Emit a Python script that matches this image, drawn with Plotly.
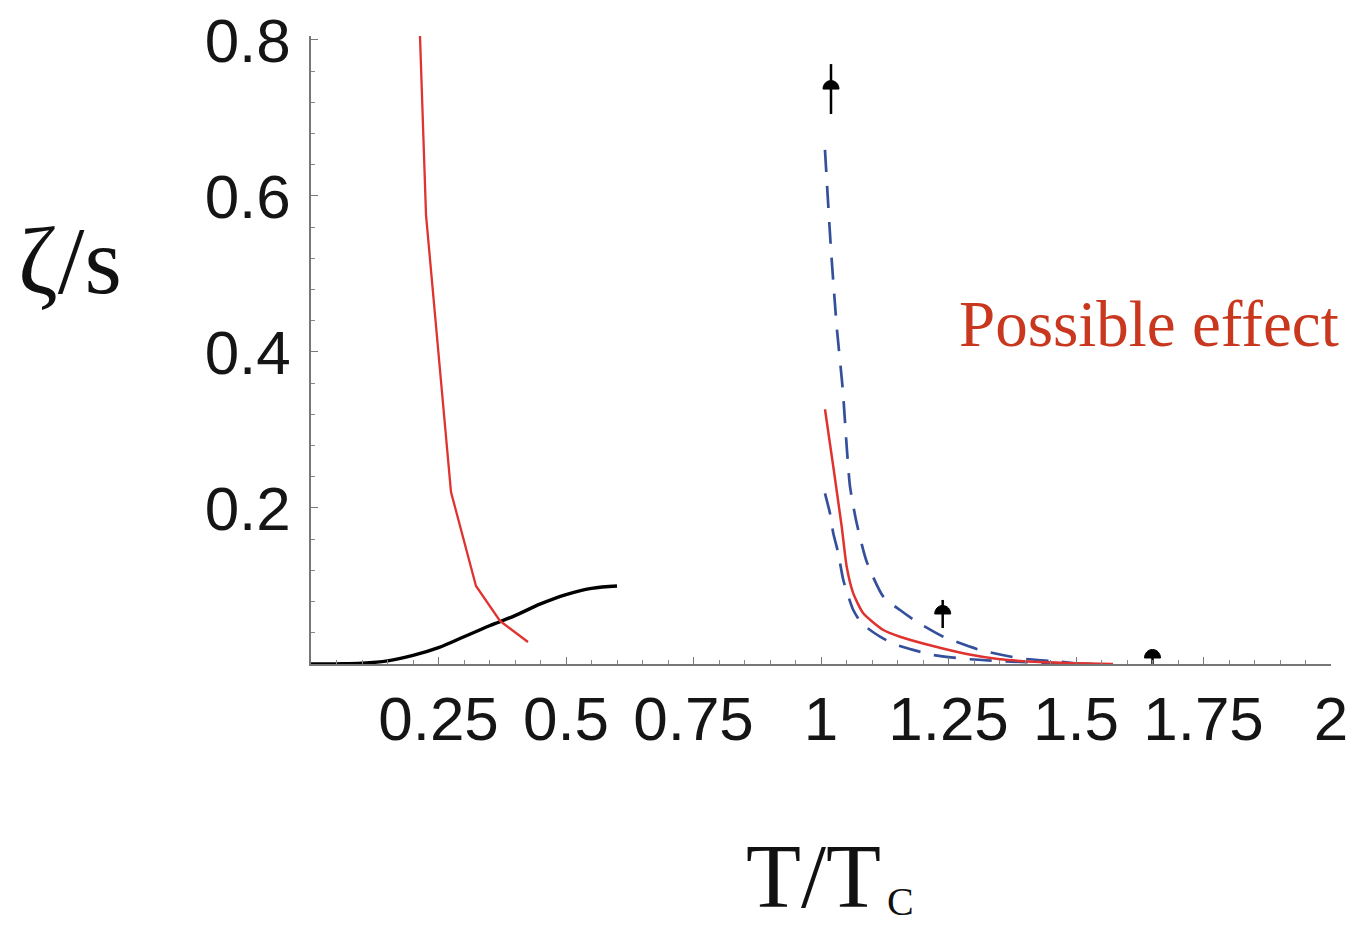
import plotly.graph_objects as go

# ---------------- data ----------------
# black curve (low temperature)
black_x = [0.0, 0.05, 0.10, 0.15, 0.20, 0.25, 0.30, 0.35, 0.40, 0.45, 0.50, 0.55, 0.60]
black_y = [0.0, 0.0002, 0.001, 0.004, 0.011, 0.021, 0.035, 0.049, 0.062, 0.077, 0.089, 0.097, 0.100]

# red curve (low temperature branch)
red_lo_x = [0.2137, 0.2255, 0.2745, 0.3235, 0.3706, 0.4255]
red_lo_y = [0.805, 0.5756, 0.2205, 0.100, 0.0551, 0.0282]

# red curve (high temperature branch)
red_hi_x = [1.0078, 1.0241, 1.0406, 1.0504, 1.0633, 1.0829, 1.1222, 1.1549, 1.2196,
            1.2857, 1.351, 1.4157, 1.494, 1.5725]
red_hi_y = [0.3265, 0.253, 0.176, 0.1247, 0.0906, 0.065, 0.0436, 0.035, 0.023,
            0.0128, 0.006, 0.003, 0.001, 0.0]

# blue dashed upper bound
blue_up_x = [1.0078, 1.0196, 1.0314, 1.0425, 1.0504, 1.0569, 1.070, 1.0896, 1.1222,
             1.1549, 1.1876, 1.2398, 1.3118, 1.3902, 1.4686, 1.498]
blue_up_y = [0.659, 0.531, 0.428, 0.3535, 0.2786, 0.2273, 0.1804, 0.1312, 0.0863,
             0.0692, 0.0542, 0.035, 0.018, 0.0073, 0.003, 0.001]

# blue dashed lower bound
blue_lo_x = [1.0078, 1.0176, 1.0241, 1.0339, 1.0437, 1.0633, 1.0798, 1.1157, 1.1484,
             1.2202, 1.2857, 1.351, 1.4294, 1.5333]
blue_lo_y = [0.2188, 0.1932, 0.1676, 0.1419, 0.1077, 0.0692, 0.0522, 0.035, 0.0244,
             0.0115, 0.0064, 0.0038, 0.0017, 0.0]

# data points with error bars
pts_x = [1.0196, 1.2386, 1.650]
pts_y = [0.737, 0.0641, 0.0077]
pts_err = [0.032, 0.018, 0.0077]

x_tickvals = [0.25, 0.5, 0.75, 1, 1.25, 1.5, 1.75, 2]
x_ticktext = ["0.25", "0.5", "0.75", "1", "1.25", "1.5", "1.75", "2"]
y_tickvals = [0.2, 0.4, 0.6, 0.8]
y_ticktext = ["0.2", "0.4", "0.6", "0.8"]

# ---------------- styles ----------------
RED = "#e0322e"
BLUE = "#34509c"
W, H = 1353, 926
L, R, T, B = 311, 22, 36, 262

fig = go.Figure()
fig.add_trace(go.Scatter(x=black_x, y=black_y, mode="lines",
                         line=dict(color="black", width=3.4, shape="spline", smoothing=1.0),
                         showlegend=False))
fig.add_trace(go.Scatter(x=red_lo_x, y=red_lo_y, mode="lines", line=dict(color=RED, width=2.3),
                         showlegend=False))
fig.add_trace(go.Scatter(x=blue_up_x, y=blue_up_y, mode="lines",
                         line=dict(color=BLUE, width=2.7, dash="22px,14px", shape="spline", smoothing=0.6),
                         showlegend=False))
fig.add_trace(go.Scatter(x=blue_lo_x, y=blue_lo_y, mode="lines",
                         line=dict(color=BLUE, width=2.7, dash="22px,14px", shape="spline", smoothing=0.6),
                         showlegend=False))
fig.add_trace(go.Scatter(x=red_hi_x, y=red_hi_y, mode="lines",
                         line=dict(color=RED, width=2.5, shape="spline", smoothing=0.6),
                         showlegend=False))
fig.add_trace(go.Scatter(x=pts_x, y=pts_y, mode="markers",
                         marker=dict(size=1, color="black"),
                         error_y=dict(type="data", array=pts_err, visible=True, color="black",
                                      thickness=2.5, width=0),
                         showlegend=False))

# dome-shaped markers (semicircle sitting on each data point)
for px_, py_ in zip(pts_x, pts_y):
    fig.add_shape(type="path", xref="x", yref="y", xsizemode="pixel", ysizemode="pixel",
                  xanchor=px_, yanchor=py_,
                  path="M-8,0 C-8,4.6 -4.6,8.5 0,8.5 C4.6,8.5 8,4.6 8,0 Z",
                  fillcolor="black", line=dict(color="black", width=1))

tick_font = dict(family="Liberation Sans, Arial, sans-serif", size=62, color="#151515")

fig.update_layout(
    width=W, height=H,
    margin=dict(l=L, r=R, t=T, b=B, autoexpand=False),
    paper_bgcolor="white", plot_bgcolor="white",
    xaxis=dict(range=[0, 2], showgrid=False, zeroline=False, showline=True, automargin=False,
               linecolor="#777", linewidth=1.5,
               tickmode="array", tickvals=x_tickvals, ticktext=x_ticktext,
               ticks="inside", ticklen=7, tickwidth=1, tickcolor="#777",
               minor=dict(dtick=0.05, ticks="inside", ticklen=4, tickcolor="#888", tickwidth=1),
               tickfont=tick_font, ticklabelstandoff=0),
    yaxis=dict(range=[0, 0.805], showgrid=False, zeroline=False, showline=True, automargin=False,
               linecolor="#777", linewidth=1.5,
               tickmode="array", tickvals=y_tickvals, ticktext=y_ticktext,
               ticks="inside", ticklen=7, tickwidth=1, tickcolor="#777",
               minor=dict(dtick=0.04, ticks="inside", ticklen=4, tickcolor="#888", tickwidth=1),
               tickfont=tick_font, ticklabelstandoff=6),
)

def px_to_paper(px, py):
    return (px - L) / (W - L - R), (H - B - py) / (H - T - B)

serif = "Liberation Serif, Times New Roman, serif"

ax, ay = px_to_paper(1149, 324)
fig.add_annotation(text="Possible effect", x=ax, y=ay, xref="paper", yref="paper",
                   xanchor="center", yanchor="middle", showarrow=False,
                   font=dict(family=serif, size=65, color="#c8371e"))

ax, ay = px_to_paper(16, 260)
fig.add_annotation(text="ζ/s", x=ax, y=ay, xref="paper", yref="paper",
                   xanchor="left", yanchor="middle", showarrow=False,
                   font=dict(family=serif, size=96, color="#111"))

ax, ay = px_to_paper(744, 876)
fig.add_annotation(text="T/T", x=ax, y=ay, xref="paper", yref="paper",
                   xanchor="left", yanchor="middle", showarrow=False,
                   font=dict(family=serif, size=90, color="#111"))
ax, ay = px_to_paper(885, 901)
fig.add_annotation(text="C", x=ax, y=ay, xref="paper", yref="paper",
                   xanchor="left", yanchor="middle", showarrow=False,
                   font=dict(family=serif, size=40, color="#111"))

fig.write_html("out.html")
